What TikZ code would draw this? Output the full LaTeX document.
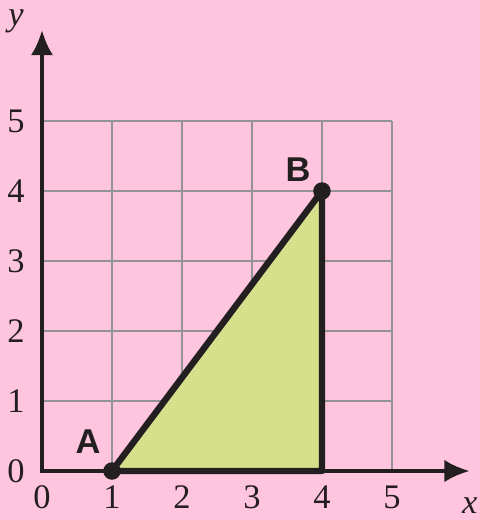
\documentclass[tikz,border=0pt]{standalone}
\usepackage{fontspec}
\setmainfont{Liberation Serif}
\newfontfamily\labelfont{Liberation Sans}
\usetikzlibrary{arrows.meta,positioning}
\definecolor{bgpink}{RGB}{255,196,222}
\definecolor{areagreen}{RGB}{212,224,138}
\definecolor{inkblack}{RGB}{35,31,32}
\tikzset{
  gridline/.style  ={draw=gray!85,line width=0.5pt},
  axis/.style      ={{Latex[length=3.6mm,width=3.2mm]}-{Latex[length=3.6mm,width=3.2mm]},line width=1.6pt,draw=inkblack},
  edge/.style      ={line width=2.6pt,draw=inkblack,line join=round},
  dot/.style       ={circle,fill=inkblack,inner sep=0pt,minimum size=2.5mm},
  ticklabel/.style ={font=\fontsize{14}{16}\selectfont,text=inkblack},
  pointlabel/.style={font=\labelfont\bfseries\fontsize{14}{16}\selectfont,text=inkblack},
  axislabel/.style ={font=\itshape\fontsize{14}{16}\selectfont,text=inkblack}
}

\begin{document}
\begin{tikzpicture}
    \useasboundingbox[fill=bgpink] (-0.6,-0.7) rectangle (6.257,6.729);
    \draw[gridline] (0,0) grid (5,5);
    % triangle corners
    \coordinate (A) at (1,0);
    \coordinate (B) at (4,4);
    \coordinate (C) at (4,0);
    \filldraw[edge,fill=areagreen] (A) -- (B) -- (C) -- cycle;
    % axes
    \coordinate (o)    at (0,0);
    \coordinate (xend) at (6.11,0);
    \coordinate (yend) at (0,6.3);
    \draw[axis] (yend) -- (o) -- (xend);
    \foreach \n in {0,...,5} {
      \node[ticklabel] (xt\n) at (\n,-0.37) {\n};
      \node[ticklabel] (yt\n) at (-0.37,\n) {\n};
    }
    \node[axislabel] (xlab) at (6.11,-0.49) {x};
    \node[axislabel] (ylab) at (-0.37,6.43) {y};
    \node[dot] (dotA) at (A) {};
    \node[dot] (dotB) at (B) {};
    \node[pointlabel] (labA) at (0.657,0.414) {A};
    \node[pointlabel] (labB) at (3.657,4.3) {B};
  \end{tikzpicture}
\end{document}
